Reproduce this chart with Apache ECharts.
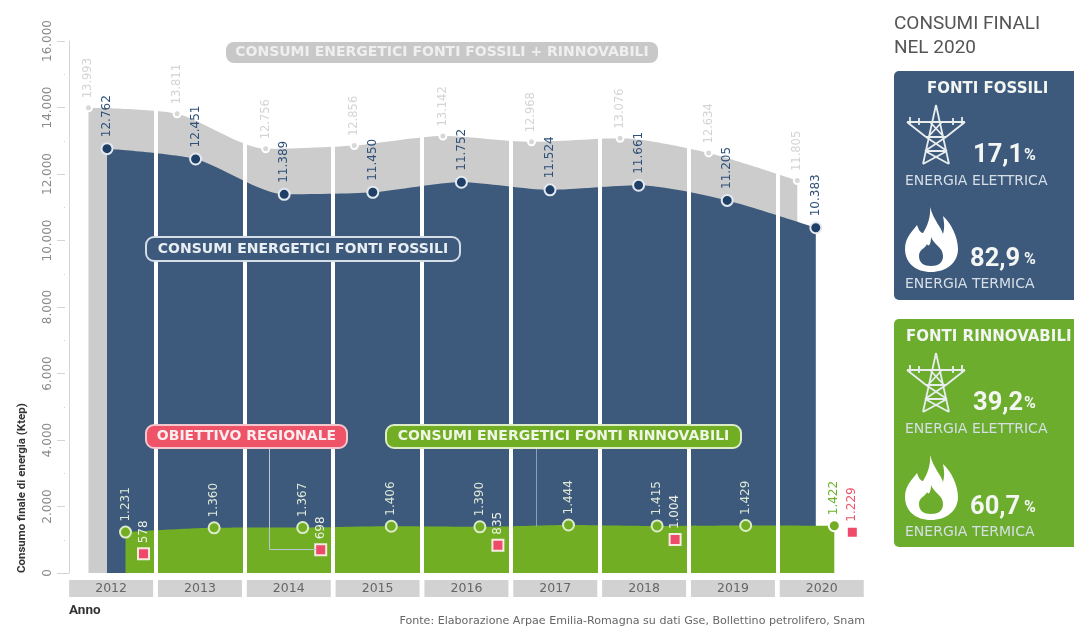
<!DOCTYPE html>
<html><head><meta charset="utf-8">
<style>html,body{margin:0;padding:0;background:#fff}#c{width:1074px;height:628px}</style>
<script src="https://cdn.jsdelivr.net/npm/echarts@6/dist/echarts.min.js"></script>
</head><body><div id="c"></div>
<script>
const years = ['2012','2013','2014','2015','2016','2017','2018','2019','2020'];
const totalValues = [13993,13811,12756,12856,13142,12968,13076,12634,11805];
const fossilValues = [12762,12451,11389,11450,11752,11524,11661,11205,10383];
const renewableValues = [1231,1360,1367,1406,1390,1444,1415,1429,1422];
const targetValues = [578,null,698,null,835,null,1004,null,1229];
const pillLabels = ['CONSUMI ENERGETICI FONTI FOSSILI + RINNOVABILI','CONSUMI ENERGETICI FONTI FOSSILI','OBIETTIVO REGIONALE','CONSUMI ENERGETICI FONTI RINNOVABILI'];
const sharePct = {fossil:['17,1','82,9'], renew:['39,2','60,7']};
const shareLabels = ['ENERGIA ELETTRICA','ENERGIA TERMICA'];

const BLUE='#3d5a7c', GREEN='#72ae24', PANELGREEN='#6cad2d', GREY='#cccccc', RED='#ee5368';
const F='"DejaVu Sans"', R='Roboto';
const fmt = v => { const s=String(v); return s.length>3 ? s.slice(0,-3)+'.'+s.slice(-3) : s; };

const PYLON='M30 1 L17 60 M30 1 L43 60 M1 18 L59 18 M1 18 L20 33 M59 18 L40 33 M20 33 L40 33 M24 18 L38 33 M36 18 L22 33 M20 33 L41 47 M40 33 L19 47 M19 47 L43 60 M41 47 L17 60 M19 47 L41 47 M4 13 L4 21 M56 13 L56 21 M13 14 L13 21 M47 14 L47 21';
const FLAME='M25 0 C29 14 36 20 38 27 C40 20 39 15 38 9 C46 16 53 30 53 42 C53 56 41 65 26 65 C11 65 0 56 0 42 C0 30 8 24 12 18 C14 24 16 26 18 26 C22 20 26 10 25 0 Z';
const HOLE='M26 30 C29 38 38 40 38 49 C38 56 33 59 26 59 C19 59 14 56 14 49 C14 42 20 42 22 37 C24 41 26 36 26 30 Z';
echarts.graphic.registerShape('iconPylon',echarts.graphic.extendPath(PYLON));
echarts.graphic.registerShape('iconFlame',echarts.graphic.extendPath(FLAME));
echarts.graphic.registerShape('iconHole',echarts.graphic.extendPath(HOLE));

const chart = echarts.init(document.getElementById('c'),null,{renderer:'canvas'});

function txt(x,y,text,font,fill,extra){return Object.assign({type:'text',x,y,z:30,silent:true,style:{text,font,fill,align:'left',verticalAlign:'middle'}},extra||{});}
function pill(x,y,w,h,fill,stroke,text,font,tfill){return [
 {type:'rect',z:20,silent:true,shape:{x,y,width:w,height:h,r:8},style:{fill,stroke:stroke,lineWidth:stroke?2:0}},
 {type:'text',z:21,silent:true,x:x+w/2,y:y+h/2,style:{text,font,fill:tfill,align:'center',verticalAlign:'middle'}}];}
function panel(y,h,fill,title,tx,pcts){
 const e=[{type:'rect',z:20,silent:true,shape:{x:894,y,width:190,height:h,r:5},style:{fill}}];
 e.push(txt(tx,y+18,title,'bold 15px '+F,'#f2f5f2'));
 e.push({type:'iconPylon',z:22,silent:true,x:906,y:y+33,style:{fill:null,stroke:'#e8edf0',lineWidth:1.8}});
 e.push(txt(973,y+85,pcts[0],'bold 25.5px '+R,'#f4f6f4'));
 e.push(txt(1024,y+85,'%','bold 16px '+R,'#f4f6f4'));
 e.push(txt(905,y+110,shareLabels[0],'14px '+F,'#d7dfe6'));
 e.push({type:'iconFlame',z:22,silent:true,x:905,y:y+136,style:{fill:'#fff'}});
 e.push({type:'iconHole',z:23,silent:true,x:905,y:y+136,style:{fill}});
 e.push(txt(970,y+189,pcts[1],'bold 25.5px '+R,'#f4f6f4'));
 e.push(txt(1024,y+189,'%','bold 16px '+R,'#f4f6f4'));
 e.push(txt(905,y+213,shareLabels[1],'14px '+F,'#d7dfe6'));
 return e;
}
const graphics=[].concat(
 pill(226,42,432,21,'#c8c8c8',null,pillLabels[0],'bold 14px '+F,'#efefef'),
 pill(146,237,314,24,BLUE,'#d5dee8',pillLabels[1],'bold 14px '+F,'#e9eef3'),
 pill(146,425,201,23,RED,'#f3c7cd',pillLabels[2],'bold 14px '+F,'#fbeef0'),
 pill(386,425,355,23,GREEN,'#dcecc4',pillLabels[3],'bold 14px '+F,'#f0f6e6'),
 [
  {type:'polyline',z:6,silent:true,shape:{points:[[269.5,448],[269.5,549.5],[316,549.5]]},style:{stroke:'#b9c8d8',lineWidth:1,fill:null}},
  {type:'line',z:6,silent:true,shape:{x1:536.5,y1:448,x2:536.5,y2:527},style:{stroke:'#8aa0b8',lineWidth:1}},
  {type:'text',z:30,silent:true,x:22,y:573,rotation:Math.PI/2,style:{text:'Consumo finale di energia (Ktep)',font:'bold 11.5px '+R,fill:'#333',align:'left',verticalAlign:'middle'}},
  txt(69,611,'Anno','bold 13.5px '+R,'#333'),
  {type:'text',z:30,silent:true,x:865,y:621,style:{text:'Fonte: Elaborazione Arpae Emilia-Romagna su dati Gse, Bollettino petrolifero, Snam',font:'11.1px '+F,fill:'#666',align:'right',verticalAlign:'middle'}},
  txt(894,24,'CONSUMI FINALI','19px '+R,'#555'),
  txt(894,48,'NEL 2020','19px '+R,'#555')
 ],
 panel(71,229,BLUE,'FONTI FOSSILI',927,sharePct.fossil),
 panel(319,228,PANELGREEN,'FONTI RINNOVABILI',906,sharePct.renew)
);

function g(left,width){return {left,width,top:41,height:532};}
function hiddenY(i){return {type:'value',gridIndex:i,min:0,max:16000,show:false};}
function hiddenX(i){return {type:'category',gridIndex:i,data:years,boundaryGap:false,show:false};}
const S=88.6, BAND=88.83;
const label=(color,dist,size)=>({show:true,position:'top',rotate:90,align:'left',verticalAlign:'middle',distance:dist,color,fontFamily:F,fontSize:size||12,formatter:p=>fmt(p.value)});

const option={
 animation:false,
 grid:[g(66.7,BAND*9),g(88.5,S*8),g(107,S*8),g(125.5,S*8),g(143.5,S*8)],
 xAxis:[
  {type:'category',gridIndex:0,data:years,boundaryGap:true,z:4,
   axisLine:{show:false},axisTick:{show:false},
   splitLine:{show:true,interval:0,lineStyle:{color:'#fff',width:4}},
   axisLabel:{interval:0,margin:7,color:'#666',fontFamily:F,fontSize:12.5,backgroundColor:'#d2d2d2',width:84,height:17,lineHeight:17,align:'center',verticalAlign:'top'}},
  hiddenX(1),hiddenX(2),hiddenX(3),hiddenX(4)
 ],
 yAxis:[
  hiddenY(0),
  {type:'value',gridIndex:1,min:0,max:16000,interval:2000,offset:19.5,splitLine:{show:false},
   axisLine:{show:true,lineStyle:{color:'#d4d4d4',width:1}},
   axisTick:{show:true,length:12,lineStyle:{color:'#d4d4d4'}},
   minorTick:{show:true,splitNumber:2,length:5,lineStyle:{color:'#d4d4d4'}},
   axisLabel:{rotate:90,margin:15,color:'#8a8a8a',fontFamily:F,fontSize:12,formatter:v=>fmt(v)}},
  hiddenY(2),hiddenY(3),hiddenY(4)
 ],
 series:[
  {type:'line',name:'Totale',xAxisIndex:1,yAxisIndex:1,z:1,data:totalValues,smooth:0.25,symbol:'circle',symbolSize:7,showAllSymbol:true,
   lineStyle:{width:0},areaStyle:{color:GREY,opacity:1},itemStyle:{color:'#d8d8d8',borderColor:'#fff',borderWidth:2},
   label:label('#d4d4d4',5,11.5)},
  {type:'line',name:'Fonti fossili',xAxisIndex:2,yAxisIndex:2,z:2,data:fossilValues,smooth:0.25,symbol:'circle',symbolSize:11,showAllSymbol:true,
   lineStyle:{width:0},areaStyle:{color:BLUE,opacity:1},itemStyle:{color:'#1f3f66',borderColor:'#e3e9f0',borderWidth:2},
   label:label('#2f5079',5)},
  {type:'line',name:'Fonti rinnovabili',xAxisIndex:3,yAxisIndex:3,z:3,smooth:0.25,symbol:'circle',symbolSize:11,showAllSymbol:true,
   data:renewableValues.map((v,i)=>i===8?{value:v,label:{color:'#6fb02a'},itemStyle:{borderColor:'#fff'}}:v),
   lineStyle:{width:0},areaStyle:{color:GREEN,opacity:1},itemStyle:{color:GREEN,borderColor:'#dcebc8',borderWidth:2},
   label:label('#dde8d6',4)},
  {type:'scatter',name:'Obiettivo regionale',xAxisIndex:4,yAxisIndex:4,z:5,symbol:'rect',symbolSize:11,
   data:targetValues.map((v,i)=>v===null?null:(i===8?{value:v,label:{color:RED},itemStyle:{borderColor:'#fff'}}:v)),
   itemStyle:{color:'#ee4a6a',borderColor:'#f4ece0',borderWidth:2,opacity:1},
   label:label('#eef2e6',4)}
 ],
 graphic:{elements:graphics}
};
chart.setOption(option);
</script></body></html>
